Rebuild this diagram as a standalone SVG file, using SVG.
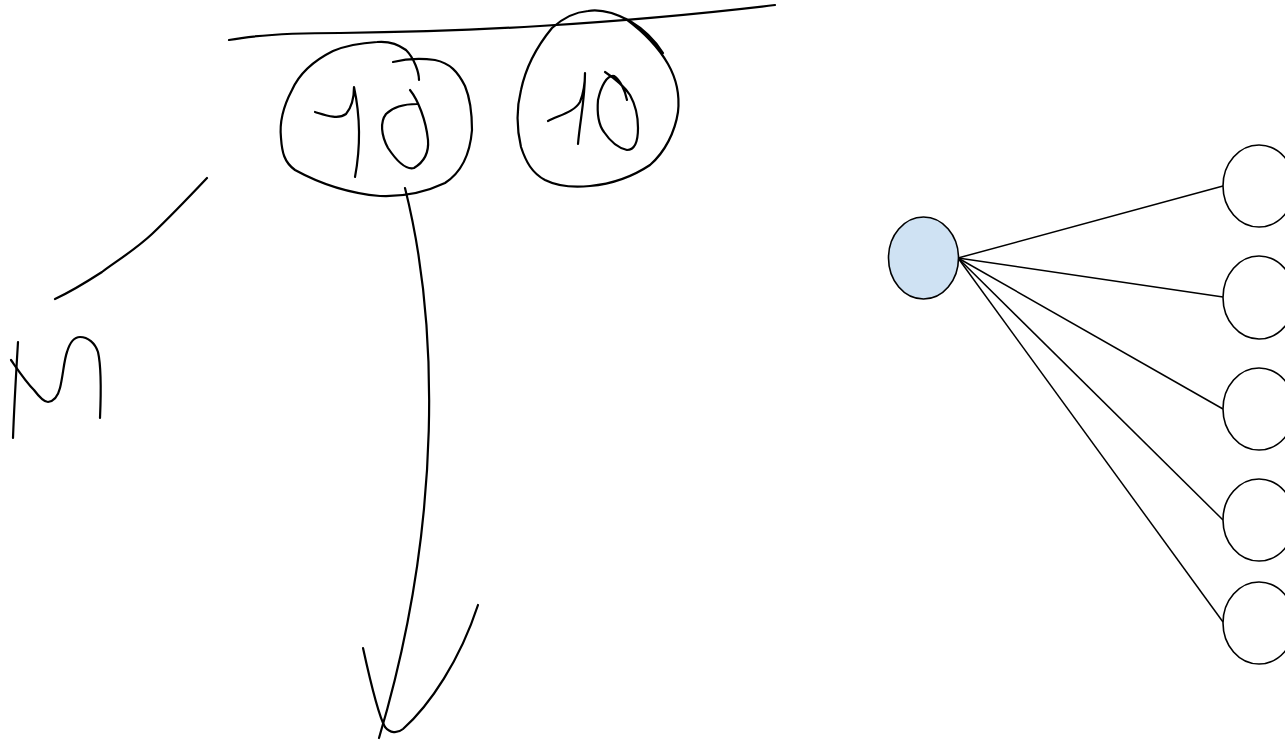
<svg xmlns="http://www.w3.org/2000/svg" width="1285" height="741" viewBox="0 0 1285 741">
<style>
.ink{fill:none;stroke:#000;stroke-width:2.2;stroke-linecap:round;stroke-linejoin:round}
.node{fill:#fff;stroke:#000;stroke-width:1.6}
.root{fill:#cfe2f3;stroke:#000;stroke-width:1.6}
.edge{fill:none;stroke:#000;stroke-width:1.5}
</style>
<rect width="1285" height="741" fill="#fff"/>
<g id="sketch">
<path class="ink" d="M229,40 C250,36 290,33 340,33 C420,32 490,29 540,26 C620,21 700,14 775,5"/>
<path class="ink" d="M419,80 C419,72 414,58 406,50 C398,44 388,41 377,42 C360,43 345,46 333,51 C315,60 300,72 292,90 C284,105 279,120 281,138 C282,152 284,162 295,170 C315,181 345,193 380,196 C405,197 428,191 445,183 C462,172 470,155 472,130 C472,112 470,98 465,86 C458,72 450,63 435,60 C420,58 405,59 393,62"/>
<path class="ink" d="M315,112 C325,115 338,120 346,114 C352,107 354,96 354,87 C360,115 361,145 355,177"/>
<path class="ink" d="M410,90 C418,100 426,120 428,140 C429,152 424,162 414,168 C406,170 398,163 388,148 C381,135 380,122 386,114 C393,107 405,104 417,104"/>
<path class="ink" d="M663,53 C656,42 645,30 630,21 C615,13 600,9 588,11 C575,12 563,18 552,28 C538,45 526,66 521,90 C516,110 517,130 521,147 C526,162 532,173 545,180 C555,185 570,188 590,186 C612,184 632,177 650,165 C665,152 675,132 678,112 C680,94 676,78 668,64 C660,50 645,33 626,19"/>
<path class="ink" d="M548,121 C560,115 574,112 580,102 C584,92 585,82 585,73 C585,100 580,120 578,144"/>
<path class="ink" d="M627,100 C625,90 620,80 614,76 C607,75 601,86 598,100 C597,112 598,124 604,132 C610,141 618,148 627,150 C634,150 638,142 638,128 C638,115 635,104 630,95 C624,86 614,78 605,72"/>
<path class="ink" d="M405,188 C438,320 444,520 379,738"/>
<path class="ink" d="M363,648 C370,680 378,715 385,727 C390,733 397,734 403,729 C430,705 460,660 478,605"/>
<path class="ink" d="M207,178 C190,196 172,215 152,234 C135,250 115,262 102,272 C85,283 70,292 55,299"/>
<path class="ink" d="M18,342 C16,375 14,410 13,438"/>
<path class="ink" d="M11,360 C18,370 26,382 34,390 C40,398 44,402 48,402 C55,401 58,396 60,388 C63,376 64,360 67,352 C70,342 74,337 80,337 C88,337 95,343 98,352 C101,365 101,395 100,418"/>
</g>
<g id="connectors">
<line class="edge" x1="958" y1="258" x2="1223" y2="186"/>
<line class="edge" x1="958" y1="258" x2="1223" y2="297"/>
<line class="edge" x1="958" y1="258" x2="1223" y2="409"/>
<line class="edge" x1="958" y1="258" x2="1223" y2="520"/>
<line class="edge" x1="958" y1="258" x2="1223" y2="622"/>
</g>
<g id="root"><ellipse class="root" cx="923.5" cy="258" rx="35" ry="41"/></g>
<g id="n1"><ellipse class="node" cx="1259" cy="186" rx="36" ry="41"/></g>
<g id="n2"><ellipse class="node" cx="1259" cy="297.5" rx="36" ry="41.5"/></g>
<g id="n3"><ellipse class="node" cx="1259" cy="409" rx="36" ry="41"/></g>
<g id="n4"><ellipse class="node" cx="1259" cy="520" rx="36" ry="41"/></g>
<g id="n5"><ellipse class="node" cx="1259" cy="623" rx="36" ry="41"/></g>
</svg>
